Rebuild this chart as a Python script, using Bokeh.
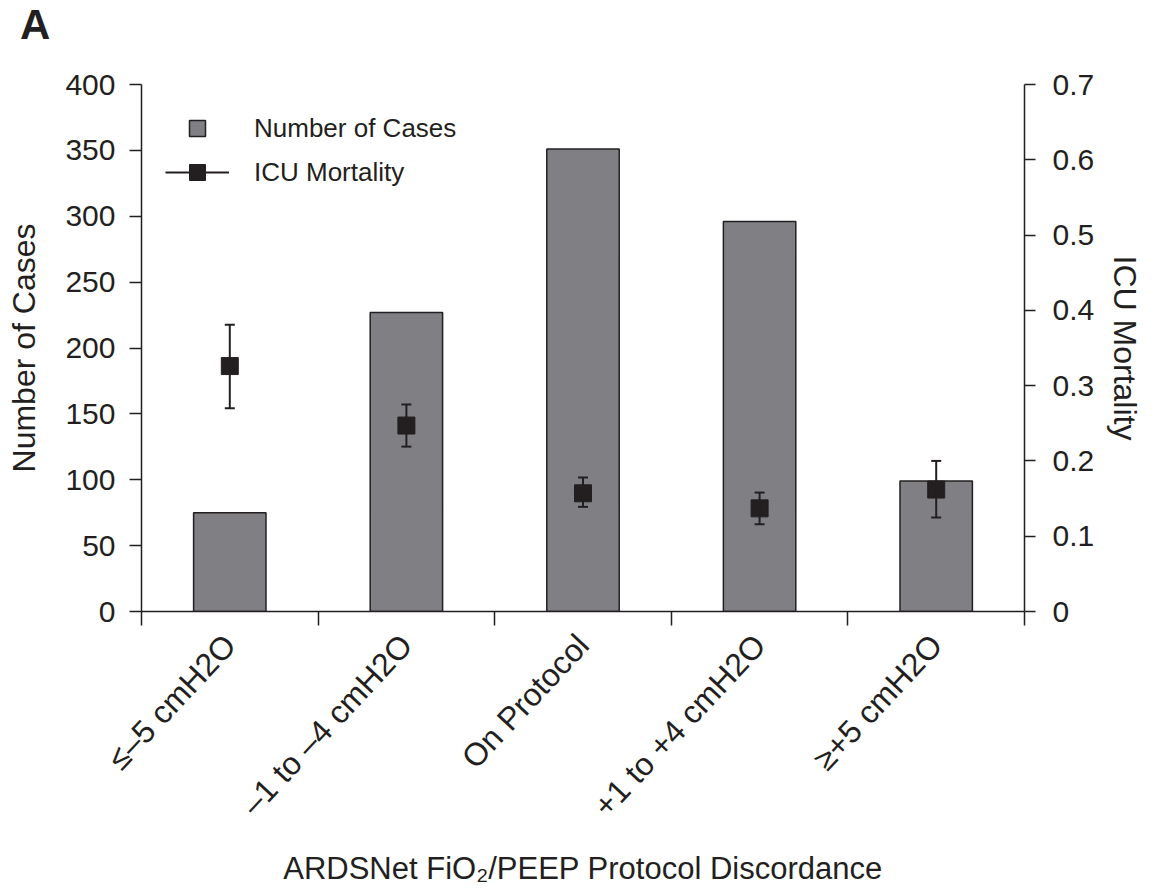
from bokeh.plotting import figure
from bokeh.layouts import column
from bokeh.models import (Range1d, LinearAxis, FixedTicker, ColumnDataSource,
                          Whisker, TeeHead, Legend, LegendItem, Div)
from bokeh.embed import file_html
from bokeh.resources import INLINE

# ---- data ----
categories = ["≤–5 cmH2O", "–1 to –4 cmH2O", "On Protocol", "+1 to +4 cmH2O", "≥+5 cmH2O"]
cases = [75, 227, 351, 296, 99]
mortality = [0.326, 0.247, 0.157, 0.137, 0.162]
mortality_lower = [0.270, 0.219, 0.139, 0.116, 0.125]
mortality_upper = [0.381, 0.275, 0.178, 0.158, 0.200]
left_ticks = [0, 50, 100, 150, 200, 250, 300, 350, 400]
right_ticks = [0, 0.1, 0.2, 0.3, 0.4, 0.5, 0.6, 0.7]
panel_letter = "A"

INK = "#231f20"
BAR = "#808084"
FONT = "Liberation Sans"

positions = [i + 0.5 for i in range(len(categories))]
boundaries = list(range(len(categories) + 1))

src = ColumnDataSource(dict(x=positions, cases=cases, mort=mortality,
                            lower=mortality_lower, upper=mortality_upper))

p = figure(frame_width=883, frame_height=527, title=None,
           x_range=Range1d(0, len(categories)), y_range=Range1d(0, 400),
           output_backend="svg", toolbar_location=None,
           min_border_left=141, min_border_right=133,
           min_border_top=40, min_border_bottom=276)
p.extra_y_ranges = {"right": Range1d(0, 0.7)}
p.outline_line_color = None
p.xgrid.visible = False
p.ygrid.visible = False
p.background_fill_color = "white"
p.border_fill_color = "white"

# bars
bars = p.vbar(x="x", top="cases", width=0.41, source=src,
              fill_color=BAR, line_color=INK, line_width=1.5)

# error bars
whisk = Whisker(base="x", upper="upper", lower="lower", source=src,
                y_range_name="right", line_color=INK, line_width=2,
                upper_head=TeeHead(size=10, line_color=INK, line_width=2),
                lower_head=TeeHead(size=10, line_color=INK, line_width=2),
                level="overlay")
p.add_layout(whisk)

# mortality markers
pts = p.scatter(x="x", y="mort", source=src, y_range_name="right",
                marker="square", size=17, fill_color=INK, line_color=INK)

# legend proxies
nan_src = ColumnDataSource(dict(x=[float("nan")], y=[float("nan")]))
leg_sq = p.scatter(x="x", y="y", source=nan_src, marker="square",
                   fill_color=BAR, line_color=INK, line_width=1.5)
leg_line = p.line(x="x", y="y", source=nan_src, line_color=INK, line_width=2)

legend = Legend(items=[LegendItem(label="Number of Cases", renderers=[leg_sq]),
                       LegendItem(label="ICU Mortality", renderers=[leg_line, pts])],
                location="top_left", margin=24, padding=0,
                border_line_color=None, background_fill_alpha=0,
                glyph_width=64, glyph_height=40, spacing=4,
                label_standoff=25, label_text_font=FONT,
                label_text_font_size="26px", label_text_color=INK)
p.add_layout(legend)

# x axis
xa = p.xaxis[0]
xa.ticker = FixedTicker(ticks=positions, minor_ticks=boundaries)
xa.major_label_overrides = {pos: lab for pos, lab in zip(positions, categories)}
xa.major_label_orientation = 0.82
xa.major_tick_in = 0
xa.major_tick_out = 0
xa.minor_tick_in = 0
xa.minor_tick_out = 14
xa.minor_tick_line_color = INK
xa.minor_tick_line_width = 1.5
xa.axis_line_color = INK
xa.axis_line_width = 1.5
xa.major_label_standoff = 14
xa.major_label_text_font = FONT
xa.major_label_text_font_size = "32px"
xa.major_label_text_color = INK
xa.axis_label = "ARDSNet FiO₂/PEEP Protocol Discordance"
xa.axis_label_text_font = FONT
xa.axis_label_text_font_size = "31px"
xa.axis_label_text_font_style = "normal"
xa.axis_label_text_color = INK
xa.axis_label_standoff = 12

# left axis
ya = p.yaxis[0]
ya.ticker = FixedTicker(ticks=left_ticks)
ya.minor_tick_line_color = None
ya.major_tick_in = 0
ya.major_tick_out = 12
ya.major_tick_line_color = INK
ya.major_tick_line_width = 1.5
ya.axis_line_color = INK
ya.axis_line_width = 1.5
ya.major_label_standoff = 14
ya.major_label_text_font = FONT
ya.major_label_text_font_size = "30px"
ya.major_label_text_color = INK
ya.axis_label = "Number of Cases"
ya.axis_label_text_font = FONT
ya.axis_label_text_font_size = "32px"
ya.axis_label_text_font_style = "normal"
ya.axis_label_text_color = INK
ya.axis_label_standoff = 20

# right axis
ra = LinearAxis(y_range_name="right", ticker=FixedTicker(ticks=right_ticks),
                major_label_overrides={0: "0"})
ra.minor_tick_line_color = None
ra.major_tick_in = 0
ra.major_tick_out = 11
ra.major_tick_line_color = INK
ra.major_tick_line_width = 1.5
ra.axis_line_color = INK
ra.axis_line_width = 1.5
ra.major_label_standoff = 17
ra.major_label_text_font = FONT
ra.major_label_text_font_size = "30px"
ra.major_label_text_color = INK
ra.axis_label = "ICU Mortality"
ra.axis_label_text_font = FONT
ra.axis_label_text_font_size = "32px"
ra.axis_label_text_font_style = "normal"
ra.axis_label_text_color = INK
ra.axis_label_standoff = 10
p.add_layout(ra, "right")

# panel letter above the figure
letter = Div(text=panel_letter, width=1157, height=44, margin=(0, 0, 0, 0),
             styles={"font-family": FONT, "font-size": "42px",
                     "font-weight": "bold", "color": INK,
                     "line-height": "42px", "padding-left": "20px",
                     "padding-top": "4px", "box-sizing": "border-box"})

layout = column(letter, p, spacing=0)

open("out.html", "w").write(file_html(layout, INLINE))
